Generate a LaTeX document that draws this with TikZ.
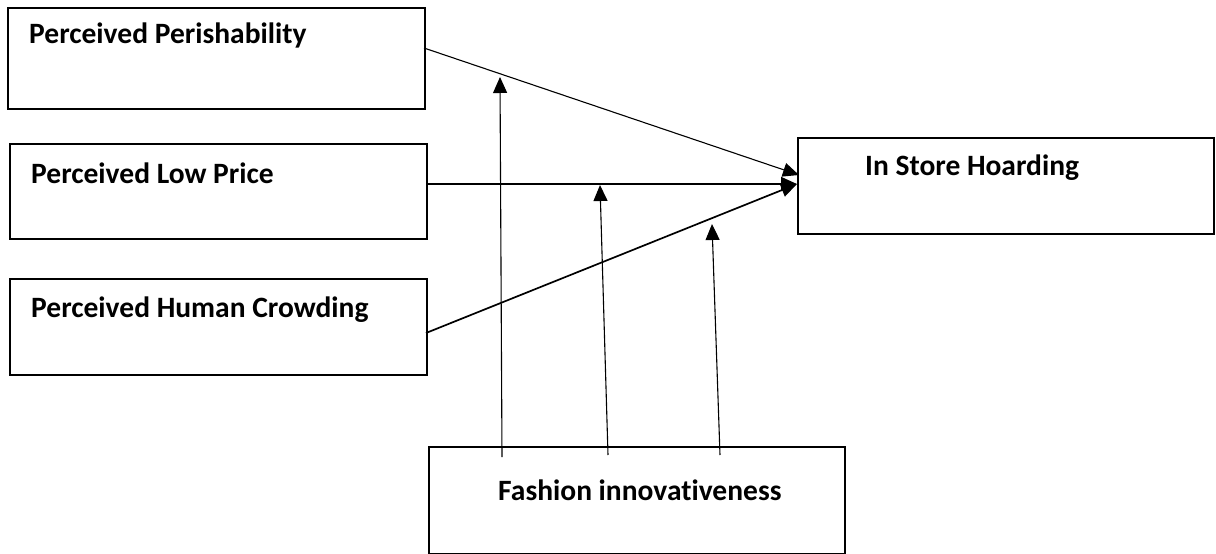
\documentclass[tikz,border=0pt]{standalone}
\usepackage{fontspec}
\setmainfont[Ligatures=NoCommon]{Carlito}
\usetikzlibrary{arrows.meta}

\begin{document}
\begin{tikzpicture}[x=1pt,y=-1pt,
  box/.style={draw=black,line width=1.8pt,rectangle,inner sep=0pt,anchor=north west},
  label/.style={inner sep=0pt,anchor=base west,font=\fontsize{29.5}{34}\selectfont\bfseries},
  thin/.style={line width=1.1pt},
  thick/.style={line width=1.7pt},
  tip/.style={-{Triangle[length=16pt,width=14pt]}}]
  \useasboundingbox (0,0) rectangle (1216,554);

  % construct boxes
  \node[box,minimum width=417pt,minimum height=101pt] (peri) at (7,7) {};
  \node[box,minimum width=417pt,minimum height=95pt]  (price) at (9,143) {};
  \node[box,minimum width=417pt,minimum height=96pt]  (crowd) at (9,278) {};
  \node[box,minimum width=416pt,minimum height=96pt]  (hoard) at (797,137) {};
  \node[box,minimum width=416pt,minimum height=107pt] (fash) at (428,446) {};

  % labels
  \node[label] (tperi)  at (29,43)  {Perceived Perishability};
  \node[label] (tprice) at (31,183) {Perceived Low Price};
  \node[label] (tcrowd) at (31,317) {Perceived Human Crowding};
  \node[label] (thoard) at (865,175) {In Store Hoarding};
  \node[label] (tfash)  at (498,500) {Fashion innovativeness};

  % connector ends
  \coordinate (pOut) at (424,48);
  \coordinate (cOut) at (426,333);
  \coordinate (hInA) at (799,175);
  \coordinate (hInB) at (797,184);
  \coordinate (f1) at (502,457);
  \coordinate (f2) at (608,455);
  \coordinate (f3) at (720,455);
  \coordinate (m1) at (500,77);
  \coordinate (m2) at (600,185);
  \coordinate (m3) at (712,224);

  % direct effects
  \draw[thin,tip] (pOut) -- (hInA);
  \draw[thick,tip] (price.east |- hInB) -- (hInB);
  \draw[thick,tip] (cOut) -- (hInB);

  % moderating effects
  \draw[thin,tip] (f1) -- (m1);
  \draw[thin,tip] (f2) -- (m2);
  \draw[thin,tip] (f3) -- (m3);
\end{tikzpicture}
\end{document}
